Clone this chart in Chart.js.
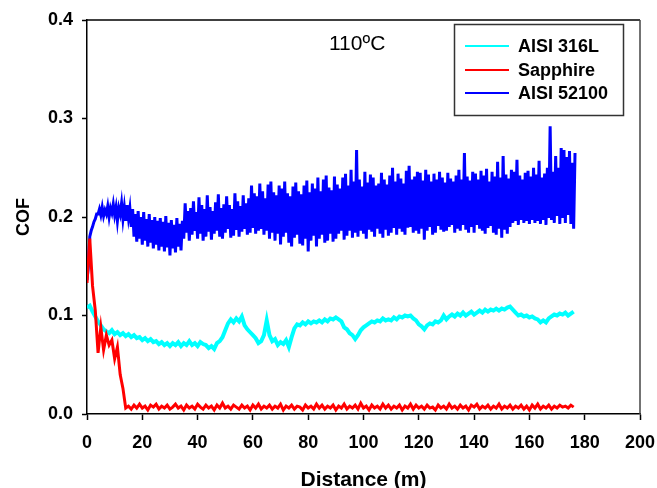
<!DOCTYPE html>
<html>
<head>
<meta charset="utf-8">
<script src="https://cdn.jsdelivr.net/npm/chart.js@4"></script>
<style>
  html, body { margin: 0; padding: 0; background: #fff; }
  #wrap { width: 657px; height: 488px; }
</style>
</head>
<body>
<div id="wrap"><canvas id="cof"></canvas></div>
<script>
// x tick labels (distance, m) and y tick labels (COF)
const xTicks = [0, 20, 40, 60, 80, 100, 120, 140, 160, 180, 200];
const yTicks = [0.0, 0.1, 0.2, 0.3, 0.4];
const seriesNames = ['AISI 316L', 'Sapphire', 'AISI 52100'];
const seriesColors = ['#00ffff', '#ff0000', '#0000ff'];
const tempLabel = '110ºC';

// AISI 316L, one value per metre from 0 to 176 m
const cyanCof = [
  0.108,0.110,0.104,0.099,0.094,0.090,0.086,0.084,0.082,0.085,
  0.081,0.083,0.080,0.082,0.079,0.081,0.078,0.080,0.077,0.078,
  0.075,0.077,0.074,0.076,0.073,0.074,0.071,0.073,0.070,0.072,
  0.069,0.072,0.070,0.073,0.069,0.072,0.070,0.074,0.070,0.072,
  0.069,0.073,0.071,0.070,0.067,0.069,0.066,0.072,0.074,0.078,
  0.085,0.092,0.096,0.093,0.097,0.094,0.099,0.090,0.086,0.083,
  0.080,0.077,0.072,0.074,0.080,0.095,0.080,0.074,0.076,0.070,
  0.073,0.071,0.075,0.068,0.078,0.087,0.091,0.090,0.093,0.091,
  0.094,0.092,0.094,0.093,0.095,0.093,0.096,0.094,0.097,0.096,
  0.098,0.096,0.094,0.088,0.086,0.082,0.080,0.076,0.080,0.085,
  0.088,0.090,0.092,0.094,0.093,0.095,0.094,0.097,0.095,0.096,
  0.095,0.098,0.096,0.099,0.098,0.100,0.099,0.100,0.097,0.095,
  0.091,0.089,0.086,0.090,0.092,0.091,0.094,0.093,0.095,0.100,
  0.096,0.099,0.101,0.099,0.102,0.100,0.103,0.100,0.102,0.104,
  0.101,0.103,0.105,0.103,0.106,0.104,0.106,0.105,0.107,0.105,
  0.107,0.106,0.108,0.109,0.106,0.103,0.100,0.101,0.099,0.100,
  0.098,0.099,0.097,0.096,0.093,0.095,0.093,0.097,0.099,0.101,
  0.100,0.102,0.101,0.103,0.100,0.102,0.104
];

// Sapphire, one value per metre from 0 to 176 m
const redCof = [
  0.133,0.178,0.130,0.105,0.062,0.088,0.065,0.080,0.070,0.075,
  0.056,0.068,0.040,0.026,0.006,
  0.008,0.005,0.009,0.006,0.010,0.006,0.008,0.004,0.009,0.007,
  0.010,0.005,0.008,0.006,0.009,0.005,0.007,0.010,0.006,0.008,
  0.004,0.009,0.006,0.008,0.005,0.010,0.007,0.005,0.009,0.006,
  0.008,0.004,0.009,0.006,0.011,0.006,0.008,0.005,0.009,0.007,
  0.005,0.009,0.006,0.008,0.004,0.009,0.006,0.010,0.005,0.008,
  0.006,0.009,0.005,0.008,0.006,0.010,0.004,0.008,0.006,0.009,
  0.005,0.008,0.007,0.004,0.009,0.006,0.008,0.005,0.010,0.006,
  0.009,0.005,0.008,0.006,0.009,0.004,0.008,0.006,0.010,0.005,
  0.008,0.006,0.009,0.005,0.011,0.006,0.008,0.004,0.009,0.006,
  0.008,0.005,0.010,0.006,0.009,0.005,0.008,0.006,0.009,0.004,
  0.008,0.006,0.010,0.005,0.009,0.006,0.008,0.005,0.009,0.006,
  0.007,0.004,0.009,0.006,0.008,0.005,0.010,0.006,0.008,0.005,
  0.009,0.006,0.008,0.004,0.009,0.007,0.010,0.005,0.008,0.006,
  0.009,0.005,0.008,0.006,0.010,0.005,0.008,0.006,0.009,0.005,
  0.008,0.006,0.009,0.005,0.008,0.004,0.009,0.006,0.010,0.005,
  0.008,0.006,0.009,0.005,0.008,0.006,0.009,0.007,0.008,0.006,
  0.009,0.007
];

// AISI 52100 is very noisy: lower and upper swing per metre, 0 to 176 m
const blueLow = [
  0.136,0.180,0.190,0.198,0.203,0.202,0.201,0.203,0.200,0.204,
  0.202,0.196,0.203,0.198,0.196,0.199,0.190,0.180,0.175,0.178,
  0.172,0.176,0.170,0.174,0.168,0.172,0.166,0.170,0.165,0.169,
  0.161,0.168,0.164,0.170,0.166,0.178,0.184,0.176,0.182,0.186,
  0.178,0.183,0.176,0.180,0.185,0.177,0.183,0.186,0.180,0.178,
  0.184,0.188,0.179,0.181,0.187,0.180,0.185,0.188,0.182,0.184,
  0.189,0.183,0.186,0.188,0.182,0.186,0.178,0.184,0.176,0.183,
  0.172,0.180,0.184,0.174,0.170,0.179,0.182,0.173,0.171,0.178,
  0.165,0.176,0.181,0.170,0.178,0.182,0.174,0.176,0.183,0.175,
  0.178,0.183,0.186,0.177,0.181,0.186,0.179,0.184,0.180,0.186,
  0.183,0.178,0.187,0.185,0.180,0.188,0.183,0.179,0.187,0.181,
  0.184,0.189,0.182,0.188,0.185,0.182,0.189,0.190,0.184,0.186,
  0.183,0.188,0.177,0.186,0.190,0.182,0.184,0.191,0.187,0.185,
  0.186,0.190,0.192,0.184,0.188,0.186,0.192,0.187,0.184,0.190,
  0.184,0.192,0.188,0.186,0.183,0.189,0.191,0.184,0.182,0.188,
  0.179,0.187,0.183,0.190,0.194,0.196,0.192,0.197,0.194,0.196,
  0.193,0.197,0.194,0.196,0.193,0.197,0.192,0.199,0.197,0.194,
  0.201,0.193,0.199,0.194,0.202,0.193,0.188
];
const blueHigh = [
  0.150,0.186,0.195,0.203,0.208,0.210,0.207,0.211,0.209,0.213,
  0.210,0.209,0.214,0.210,0.212,0.209,0.208,0.203,0.206,0.200,
  0.205,0.198,0.203,0.197,0.200,0.196,0.199,0.195,0.201,0.194,
  0.197,0.192,0.199,0.193,0.196,0.214,0.206,0.209,0.216,0.205,
  0.220,0.212,0.208,0.222,0.210,0.206,0.215,0.223,0.209,0.213,
  0.221,0.212,0.208,0.224,0.216,0.211,0.222,0.214,0.219,0.232,
  0.224,0.221,0.234,0.226,0.219,0.233,0.236,0.225,0.222,0.232,
  0.229,0.236,0.224,0.221,0.231,0.235,0.226,0.223,0.232,0.237,
  0.225,0.234,0.229,0.240,0.226,0.238,0.242,0.230,0.227,0.241,
  0.233,0.229,0.240,0.244,0.232,0.248,0.236,0.268,0.238,0.231,
  0.246,0.235,0.243,0.240,0.232,0.234,0.245,0.238,0.233,0.242,
  0.250,0.236,0.244,0.239,0.234,0.247,0.252,0.238,0.241,0.246,
  0.245,0.237,0.248,0.243,0.236,0.244,0.238,0.246,0.240,0.235,
  0.245,0.239,0.236,0.242,0.248,0.238,0.265,0.241,0.237,0.246,
  0.244,0.238,0.247,0.242,0.249,0.236,0.246,0.241,0.256,0.240,
  0.262,0.243,0.239,0.248,0.246,0.258,0.242,0.238,0.245,0.247,
  0.241,0.250,0.243,0.257,0.240,0.244,0.250,0.292,0.246,0.262,
  0.250,0.270,0.268,0.261,0.267,0.255,0.265
];

const cyanPts = cyanCof.map((v, i) => ({x: i, y: v}));
const redPts = redCof.map((v, i) => ({x: i, y: v}));
const bluePts = [];
blueLow.forEach((v, i) => {
  bluePts.push({x: i, y: v});
  bluePts.push({x: i + 0.5, y: blueHigh[i]});
});

const FONT = '"Liberation Sans", Arial, sans-serif';

// box round the plot, the temperature note and the framed legend
const framePlugin = {
  id: 'frame',
  afterDraw(chart) {
    const ctx = chart.ctx, a = chart.chartArea;
    ctx.save();
    ctx.strokeStyle = '#000';
    ctx.lineWidth = 1.5;
    ctx.beginPath();
    ctx.moveTo(a.left, a.top);
    ctx.lineTo(a.right, a.top);
    ctx.stroke();
    ctx.strokeStyle = '#444';
    ctx.beginPath();
    ctx.moveTo(a.right, a.top);
    ctx.lineTo(a.right, a.bottom);
    ctx.stroke();

    ctx.fillStyle = '#000';
    ctx.font = '21px ' + FONT;
    ctx.textBaseline = 'middle';
    ctx.fillText(tempLabel, 329, 44);

    // legend
    ctx.strokeStyle = '#333';
    ctx.lineWidth = 1.5;
    ctx.strokeRect(454.5, 24.5, 169, 91);
    ctx.font = 'bold 18px ' + FONT;
    const rows = [46, 70, 93];
    seriesNames.forEach((name, i) => {
      ctx.strokeStyle = seriesColors[i];
      ctx.lineWidth = 2;
      ctx.beginPath();
      ctx.moveTo(465, rows[i]);
      ctx.lineTo(509, rows[i]);
      ctx.stroke();
      ctx.fillStyle = '#000';
      ctx.fillText(name, 518, rows[i] + 1);
    });
    ctx.restore();
  }
};

new Chart(document.getElementById('cof'), {
  type: 'line',
  data: {
    datasets: [
      {label: seriesNames[0], data: cyanPts, borderColor: seriesColors[0], borderWidth: 4, order: 1},
      {label: seriesNames[1], data: redPts, borderColor: seriesColors[1], borderWidth: 3, order: 0},
      {label: seriesNames[2], data: bluePts, borderColor: seriesColors[2], borderWidth: 3, order: 2}
    ]
  },
  options: {
    responsive: true,
    maintainAspectRatio: false,
    animation: false,
    events: [],
    elements: { point: { radius: 0 }, line: { tension: 0 } },
    layout: { padding: { top: 20, right: 17, left: 0, bottom: 0 } },
    plugins: { legend: { display: false }, tooltip: { enabled: false } },
    scales: {
      x: {
        type: 'linear',
        min: 0, max: 200,
        afterFit: s => { s.height = 74; s.paddingLeft = 0; s.paddingRight = 0; },
        afterBuildTicks: s => { s.ticks = xTicks.map(v => ({value: v})); },
        grid: { drawOnChartArea: false, drawTicks: true, tickLength: 6, tickColor: '#000', tickWidth: 1.5 },
        border: { color: '#000', width: 1.5 },
        ticks: { color: '#000', font: { family: FONT, size: 18, weight: 'bold' }, padding: 12, maxRotation: 0 },
        title: { display: true, text: 'Distance (m)', color: '#000',
                 font: { family: FONT, size: 21, weight: 'bold', lineHeight: 1 }, padding: { top: 0, bottom: -3 } }
      },
      y: {
        min: 0, max: 0.4,
        afterFit: s => { s.width = 87; },
        afterBuildTicks: s => { s.ticks = yTicks.map(v => ({value: v})); },
        grid: { drawOnChartArea: false, drawTicks: true, tickLength: 5, tickColor: '#000', tickWidth: 1.5 },
        border: { color: '#000', width: 1.5 },
        ticks: { color: '#000', font: { family: FONT, size: 18, weight: 'bold' }, padding: 9,
                 callback: v => v.toFixed(1) },
        title: { display: true, text: 'COF', color: '#000',
                 font: { family: FONT, size: 18, weight: 'bold', lineHeight: 1 }, padding: { top: 15, bottom: 0 } }
      }
    }
  },
  plugins: [framePlugin]
});
</script>
</body>
</html>
